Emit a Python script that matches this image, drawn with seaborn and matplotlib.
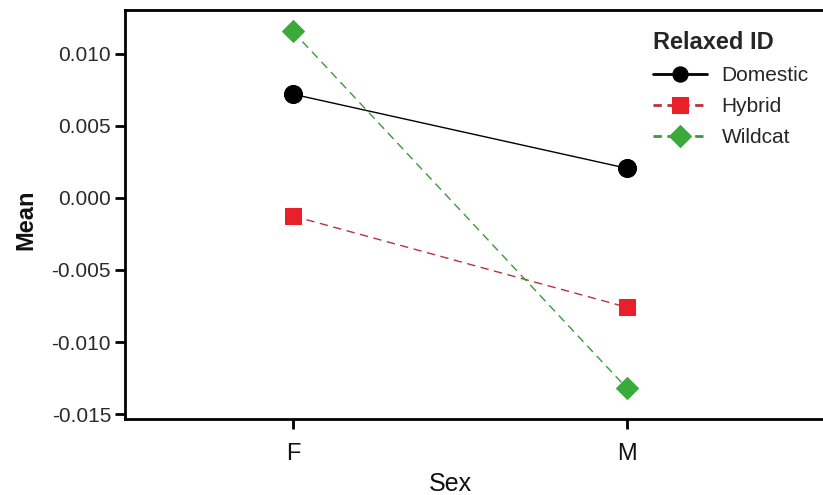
import matplotlib
matplotlib.use("Agg")
import matplotlib.pyplot as plt
import seaborn as sns
import pandas as pd

# Group means of the relaxed ID score by sex
sexes = ["F", "M"]
groups = ["Domestic", "Hybrid", "Wildcat"]
domestic_mean = [0.00719, 0.00205]
hybrid_mean = [-0.00126, -0.00759]
wildcat_mean = [0.01154, -0.01321]
y_ticks = [-0.015, -0.010, -0.005, 0.000, 0.005, 0.010]

colors = ["#000000", "#e8202a", "#3aaa3a"]
line_colors = ["#000000", "#b8333a", "#3a9a3a"]

rows = []
for g, vals in zip(groups, [domestic_mean, hybrid_mean, wildcat_mean]):
    for s, v in zip(sexes, vals):
        rows.append({"Sex": s, "Relaxed ID": g, "Mean": v})
df = pd.DataFrame(rows)

sns.set_theme(style="white")
plt.rcParams["font.family"] = ["Liberation Sans", "DejaVu Sans"]

fig = plt.figure(figsize=(8.23, 4.95), dpi=100)
ax = fig.add_axes([125 / 823, 1 - 419 / 495, 698 / 823, 409 / 495])

sns.pointplot(
    data=df, x="Sex", y="Mean", hue="Relaxed ID", order=sexes,
    hue_order=groups, palette=colors, markers=["o", "s", "D"],
    linestyles=["-", "--", "--"], ax=ax, errorbar=None,
    markersize=13, linewidth=1.0,
)

# thin connecting lines in a slightly darker tone, markers keep fill colour
for line, lc, mc, ls in zip(ax.lines[:3], line_colors, colors,
                            ["-", (0, (6, 4)), (0, (6, 4))]):
    line.set_color(lc)
    line.set_linestyle(ls)
    line.set_markerfacecolor(mc)
    line.set_markeredgecolor(mc)
ax.lines[1].set_markersize(12)
ax.lines[2].set_markersize(11)

ax.set_xlim(-0.503, 1.587)
ax.set_ylim(-0.01534, 0.01303)
ax.set_yticks(y_ticks)
ax.set_yticklabels([f"{t:.3f}" for t in y_ticks])

for side in ["left", "bottom", "top"]:
    ax.spines[side].set_visible(True)
    ax.spines[side].set_color("black")
    ax.spines[side].set_linewidth(2.0)
ax.spines["right"].set_visible(False)

ax.tick_params(axis="y", which="major", direction="out", length=7, width=2,
               color="black", labelsize=15, labelcolor="#2a2a2a", pad=3,
               left=True)
ax.tick_params(axis="x", which="major", direction="out", length=7, width=2,
               color="black", labelsize=17, labelcolor="#111111", pad=10,
               bottom=True)

ax.set_xlabel("Sex", fontsize=18, color="#111111")
ax.set_ylabel("Mean", fontsize=17, fontweight="bold", color="#111111")
ax.xaxis.set_label_coords(0.4656, -0.13)
ax.yaxis.set_label_coords(-0.126, 0.4866)

handles, labels = ax.get_legend_handles_labels()
for h, lc, mc, ls in zip(handles, line_colors, colors,
                         ["-", (0, (3, 2)), (0, (3, 2))]):
    h.set_color(lc)
    h.set_linewidth(2.0)
    h.set_linestyle(ls)
    h.set_markerfacecolor(mc)
    h.set_markeredgecolor(mc)
    h.set_markersize(11)
leg = ax.legend(
    handles, labels, title="Relaxed ID", loc="upper left",
    bbox_to_anchor=(0.756, 0.949), frameon=False, fontsize=15,
    title_fontproperties={"size": 17, "weight": "bold"},
    handlelength=2.6, handletextpad=0.7, labelspacing=0.58,
    borderpad=0, borderaxespad=0, alignment="left",
)

fig.savefig("out.png", dpi=100, facecolor="white")
